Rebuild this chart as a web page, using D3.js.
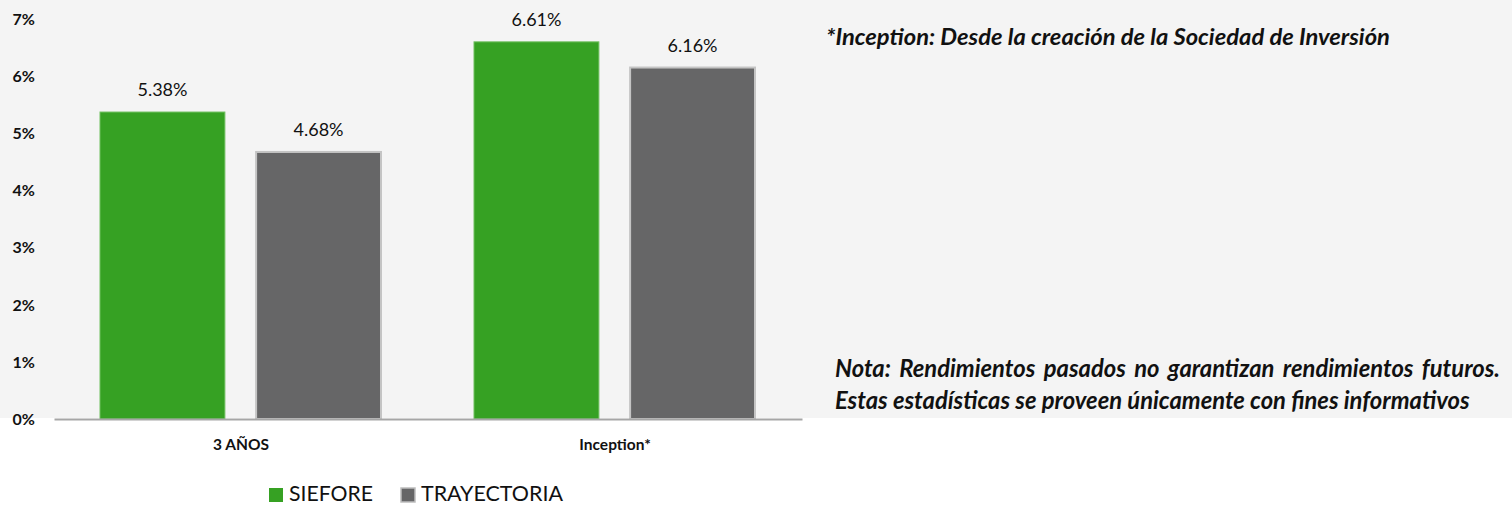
<!DOCTYPE html>
<meta charset="utf-8">
<script src="https://d3js.org/d3.v7.min.js"></script>
<style>
  body { margin: 0; background: #fff; }
  text { font-family: Lato, "Liberation Sans", sans-serif; fill: #111; }
</style>
<div id="chart"></div>
<script>
  // data
  var categories = ["3 AÑOS", "Inception*"];
  var series = ["SIEFORE", "TRAYECTORIA"];
  var siefore = [5.38, 6.61];
  var trayectoria = [4.68, 6.16];
  var yTicks = [0, 1, 2, 3, 4, 5, 6, 7];
  var noteTop = "*Inception: Desde la creación de la Sociedad de Inversión";
  var noteLines = ["Nota: Rendimientos pasados no garantizan rendimientos futuros.",
                   "Estas estadísticas se proveen únicamente con fines informativos"];

  var colors = { SIEFORE: "#36a123", TRAYECTORIA: "#666667" };
  var strokes = { SIEFORE: "#6fbf5f", TRAYECTORIA: "#c4c4c4" };

  var W = 1512, H = 506;
  var plot = { left: 54, right: 802, top: 19.6, bottom: 419 };

  var svg = d3.select("#chart").append("svg")
      .attr("width", W).attr("height", H);

  // scale a text's font size so it spans the given width
  function fit(t, base, width) {
    t.style("font-size", base + "px");
    var w = t.node().getComputedTextLength();
    t.style("font-size", (base * width / w) + "px");
    return t;
  }

  // grey panel behind chart
  svg.append("rect")
      .attr("x", 0).attr("y", 0)
      .attr("width", W).attr("height", 418)
      .attr("fill", "#f4f4f4");

  var x = d3.scaleBand()
      .domain(categories)
      .range([plot.left, plot.right])
      .paddingInner(0).paddingOuter(0);

  var xs = d3.scaleBand()
      .domain(series)
      .range([46, x.bandwidth() - 47])
      .paddingInner(0.2);

  var y = d3.scaleLinear()
      .domain([0, 7])
      .range([plot.bottom, plot.top]);

  var rows = categories.map(function (c, i) {
    return { cat: c, vals: [
      { key: "SIEFORE", v: siefore[i] },
      { key: "TRAYECTORIA", v: trayectoria[i] }
    ]};
  });

  // y axis labels (no line)
  var yAxis = svg.append("g")
      .attr("transform", "translate(35,0)")
      .call(d3.axisLeft(y).tickValues(yTicks).tickSize(0).tickPadding(0)
        .tickFormat(function (d) { return d + "%"; }));
  yAxis.select(".domain").remove();
  yAxis.selectAll("text")
      .style("font-family", "Lato, sans-serif")
      .style("font-size", "16px")
      .style("font-weight", "bold")
      .attr("fill", "#111");

  // bars
  var groups = svg.selectAll(".grp")
      .data(rows)
      .enter().append("g")
      .attr("class", "grp")
      .attr("transform", function (d) { return "translate(" + x(d.cat) + ",0)"; });

  groups.selectAll("rect")
      .data(function (d) { return d.vals; })
      .enter().append("rect")
      .attr("x", function (d) { return xs(d.key); })
      .attr("y", function (d) { return y(d.v); })
      .attr("width", xs.bandwidth())
      .attr("height", function (d) { return y(0) - y(d.v); })
      .attr("fill", function (d) { return colors[d.key]; })
      .attr("stroke", function (d) { return strokes[d.key]; })
      .attr("stroke-width", function (d) { return d.key === "SIEFORE" ? 1 : 2; });

  groups.selectAll(".lbl")
      .data(function (d) { return d.vals; })
      .enter().append("text")
      .attr("class", "lbl")
      .attr("x", function (d) { return xs(d.key) + xs.bandwidth() / 2; })
      .attr("y", function (d) { return y(d.v) - 16; })
      .attr("text-anchor", "middle")
      .style("font-size", "18px")
      .text(function (d) { return d.v.toFixed(2) + "%"; });

  // x axis
  var xAxis = svg.append("g")
      .attr("transform", "translate(0," + plot.bottom + ")")
      .call(d3.axisBottom(x).tickSize(0).tickPadding(20));
  xAxis.select(".domain")
      .attr("stroke", "#a6a6a6")
      .attr("stroke-width", 2);
  xAxis.selectAll("text")
      .style("font-family", "Lato, sans-serif")
      .style("font-size", "15.5px")
      .style("font-weight", "bold")
      .attr("fill", "#111");

  // legend
  var legend = svg.append("g").attr("transform", "translate(269,487)");
  var lx = [0, 132];
  var lw = [84, 142];
  series.forEach(function (s, i) {
    legend.append("rect")
        .attr("x", lx[i]).attr("y", 1)
        .attr("width", 14).attr("height", 14)
        .attr("fill", colors[s])
        .attr("stroke", i === 1 ? "#bdbdbd" : "none")
        .attr("stroke-width", 1.5);
    var t = legend.append("text")
        .attr("x", lx[i] + 20).attr("y", 14)
        .text(s);
    fit(t, 18, lw[i]);
  });

  // notes
  var head = svg.append("text")
      .attr("x", 826).attr("y", 45)
      .style("font-weight", "bold")
      .style("font-style", "italic")
      .text(noteTop);
  fit(head, 17.5, 564);

  var line2 = svg.append("text")
      .attr("x", 835).attr("y", 409)
      .style("font-weight", "bold")
      .style("font-style", "italic")
      .text(noteLines[1]);
  fit(line2, 17.5, 635);
  var fs = line2.style("font-size");

  // justified first line: spread the extra room over the word gaps
  var line1 = svg.append("text")
      .attr("x", 835).attr("y", 377)
      .style("font-weight", "bold")
      .style("font-style", "italic")
      .style("font-size", fs)
      .text(noteLines[0]);
  var natural = line1.node().getComputedTextLength();
  var gaps = noteLines[0].split(" ").length - 1;
  var extra = (1500 - 835 - natural) / gaps;
  if (extra > 0) line1.style("word-spacing", extra + "px");
</script>
